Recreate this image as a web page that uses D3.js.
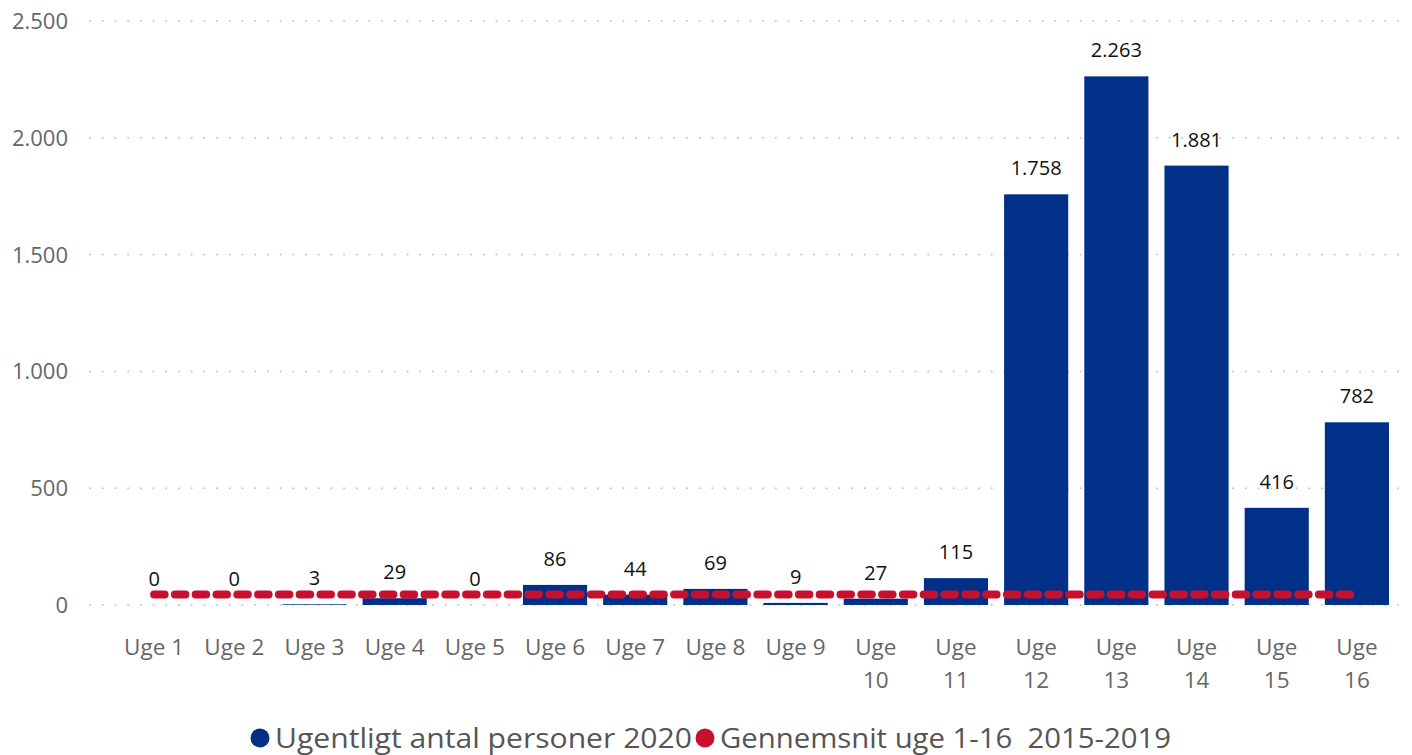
<!DOCTYPE html>
<html><head><meta charset="utf-8">
<script src="https://cdn.jsdelivr.net/npm/d3@7"></script>
<style>body{margin:0;background:#fff}svg{display:block}</style>
</head><body>
<svg id="c" width="1412" height="755"></svg>
<script>
const categories = ["Uge 1","Uge 2","Uge 3","Uge 4","Uge 5","Uge 6","Uge 7","Uge 8","Uge 9","Uge 10","Uge 11","Uge 12","Uge 13","Uge 14","Uge 15","Uge 16"];
const values2020 = [0,0,3,29,0,86,44,69,9,27,115,1758,2263,1881,416,782];
const avg20152019 = [45,45,45,45,45,45,45,45,45,45,45,45,45,45,45,45];
const yTicks = [0,500,1000,1500,2000,2500];
const seriesNames = ["Ugentligt antal personer 2020","Gennemsnit uge 1-16  2015-2019"];
const fmt = v => d3.format(",")(v).replace(/,/g,".");

const font = "'Open Sans','Noto Sans',sans-serif";
const svg = d3.select("#c");
const x = d3.scaleBand().domain(categories).range([114,1397]).paddingInner(0.2).paddingOuter(0.1);
const y = d3.scaleLinear().domain([0,2500]).range([605,21]);

// y axis labels
const yAxis = d3.axisLeft(y).tickValues(yTicks).tickFormat(fmt).tickSize(0).tickPadding(0);
const ga = svg.append("g").attr("transform","translate(68,0)").call(yAxis);
ga.select(".domain").remove();
ga.selectAll("text").attr("font-family",font).attr("font-size",22).attr("fill","#666").attr("dy","0.34em");
// gridlines
svg.append("g").selectAll("line").data(yTicks).join("line")
  .attr("x1",90).attr("x2",1404).attr("y1",d=>y(d)).attr("y2",d=>y(d))
  .attr("stroke","#c8c8c8").attr("stroke-width",2).attr("stroke-linecap","round")
  .attr("stroke-dasharray","0.1 12.6");

// bars
svg.append("g").selectAll("rect").data(values2020).join("rect")
  .attr("x",(d,i)=>x(categories[i])).attr("width",x.bandwidth())
  .attr("y",d=>y(d)).attr("height",d=>y(0)-y(d)).attr("fill","#003087");

// data labels
svg.append("g").selectAll("text").data(values2020).join("text")
  .attr("x",(d,i)=>x(categories[i])+x.bandwidth()/2).attr("y",d=>y(d)-19)
  .attr("text-anchor","middle").attr("font-family",font).attr("font-size",20).attr("fill","#111")
  .text(d=>fmt(d));

// avg line
const line = d3.line().x((d,i)=>x(categories[i])+x.bandwidth()/2).y(d=>y(d));
svg.append("path").datum(avg20152019).attr("d",line).attr("fill","none")
  .attr("stroke","#C8102E").attr("stroke-width",8).attr("stroke-linecap","round")
  .attr("stroke-dasharray","10.5 10.3");

// x labels
const xl = svg.append("g").selectAll("text").data(categories).join("text")
  .attr("x",d=>x(d)+x.bandwidth()/2).attr("y",655)
  .attr("text-anchor","middle").attr("font-family",font).attr("font-size",22.5).attr("fill","#666");
xl.each(function(d){
  const parts = d.split(" ");
  const t = d3.select(this);
  if(+parts[1]>=10){
    t.append("tspan").attr("x",x(d)+x.bandwidth()/2).text(parts[0]);
    t.append("tspan").attr("x",x(d)+x.bandwidth()/2).attr("dy",33).text(parts[1]);
  } else t.text(d);
});

// legend
const colors = ["#003087","#C8102E"];
const lg = svg.append("g");
let cx = 260;
seriesNames.forEach((name,i)=>{
  lg.append("circle").attr("cx",cx).attr("cy",738).attr("r",9.5).attr("fill",colors[i]);
  const t = lg.append("text").attr("x",cx+15).attr("y",748)
    .attr("font-family",font).attr("font-size",27).attr("fill","#555")
    .style("white-space","pre").attr("xml:space","preserve")
    .attr("textLength", i===0 ? 417 : 451).attr("lengthAdjust","spacingAndGlyphs")
    .text(name);
  cx = cx + 15 + t.node().getComputedTextLength() + 13;
});
</script>
</body></html>
